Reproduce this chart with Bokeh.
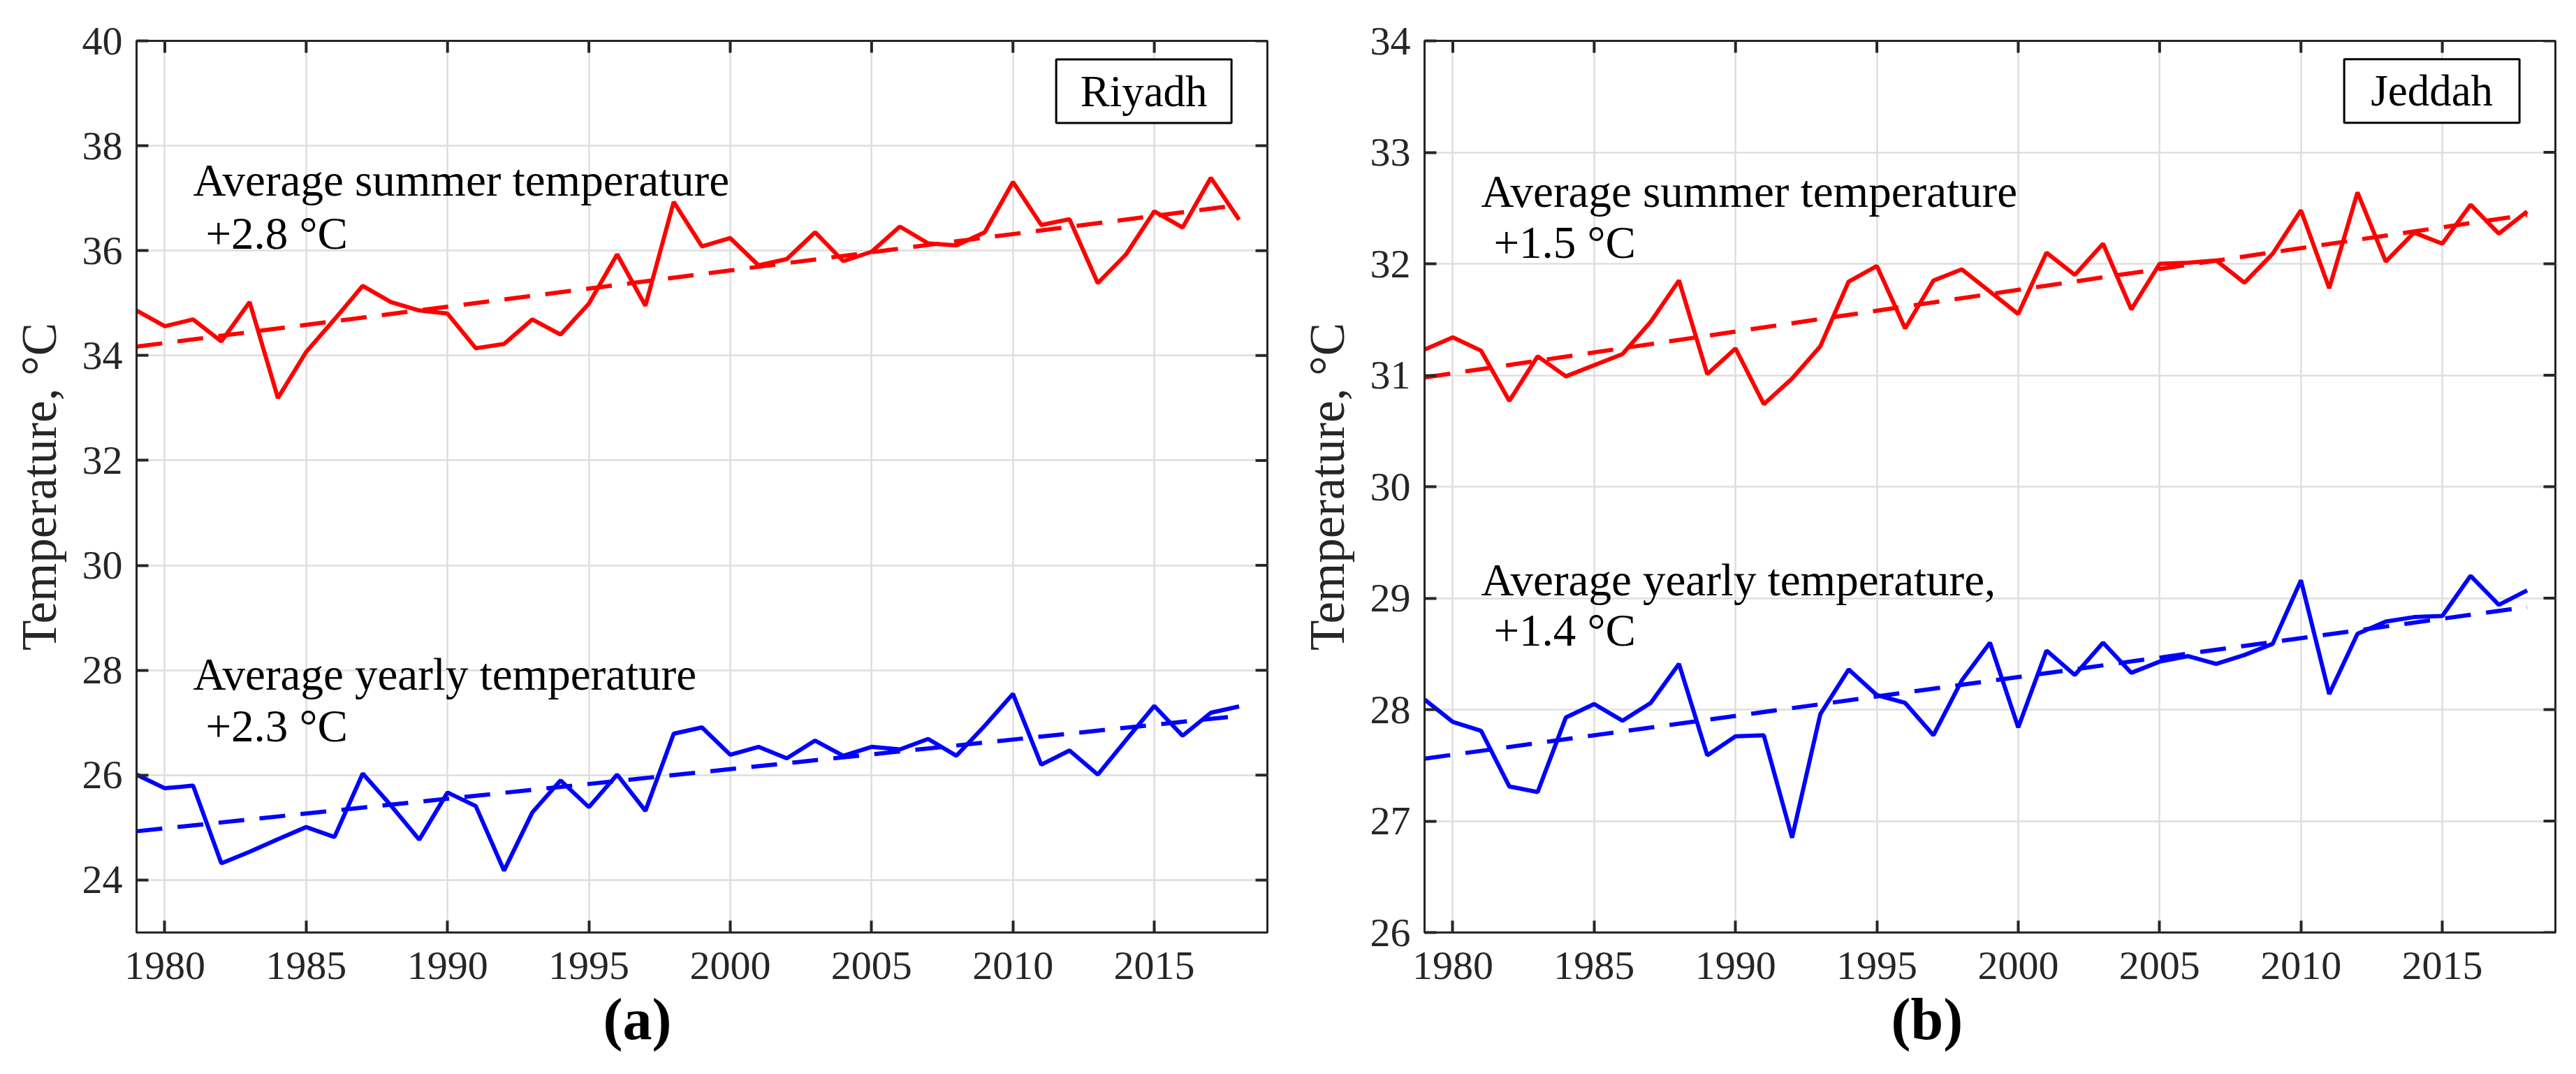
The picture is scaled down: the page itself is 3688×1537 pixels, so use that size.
from bokeh.plotting import figure
from bokeh.layouts import row
from bokeh.models import Label, FixedTicker, Range1d, Title
from bokeh.embed import file_html
from bokeh.resources import INLINE

years = list(range(1979, 2019))

riyadh_summer = [34.86, 34.56, 34.69, 34.27, 35.02, 33.19, 34.07, 34.69, 35.33, 35.02,
                 34.86, 34.80, 34.14, 34.22, 34.69, 34.40, 34.99, 35.93, 34.95, 36.93,
                 36.08, 36.24, 35.72, 35.84, 36.35, 35.80, 35.98, 36.46, 36.14, 36.10,
                 36.35, 37.31, 36.49, 36.60, 35.38, 35.93, 36.75, 36.44, 37.39, 36.59]
riyadh_yearly = [26.01, 25.75, 25.80, 24.32, 24.54, 24.78, 25.01, 24.82, 26.03, 25.42,
                 24.77, 25.67, 25.41, 24.18, 25.29, 25.90, 25.39, 26.01, 25.32, 26.79,
                 26.91, 26.39, 26.54, 26.32, 26.66, 26.37, 26.54, 26.49, 26.69, 26.37,
                 26.94, 27.55, 26.20, 26.47, 26.01, 26.67, 27.32, 26.75, 27.19, 27.31]
jeddah_summer = [31.23, 31.34, 31.22, 30.77, 31.17, 30.99, 31.09, 31.19, 31.48, 31.85,
                 31.01, 31.24, 30.74, 30.97, 31.26, 31.84, 31.98, 31.42, 31.85, 31.95,
                 31.75, 31.55, 32.10, 31.90, 32.18, 31.59, 32.00, 32.01, 32.03, 31.83,
                 32.09, 32.48, 31.78, 32.64, 32.02, 32.28, 32.18, 32.53, 32.27, 32.47]
jeddah_yearly = [28.09, 27.89, 27.81, 27.31, 27.26, 27.93, 28.05, 27.90, 28.06, 28.41,
                 27.59, 27.76, 27.77, 26.85, 27.96, 28.36, 28.13, 28.06, 27.77, 28.26,
                 28.60, 27.84, 28.53, 28.31, 28.60, 28.33, 28.43, 28.48, 28.41, 28.49,
                 28.59, 29.16, 28.14, 28.68, 28.79, 28.83, 28.84, 29.20, 28.94, 29.07]

trend_years = [1979, 2018]
riyadh_summer_trend = [34.17, 36.87]
riyadh_yearly_trend = [24.93, 27.13]
jeddah_summer_trend = [30.98, 32.44]
jeddah_yearly_trend = [27.56, 28.92]

x_ticks = [1980, 1985, 1990, 1995, 2000, 2005, 2010, 2015]
riyadh_y_ticks = [24, 26, 28, 30, 32, 34, 36, 38, 40]
jeddah_y_ticks = [26, 27, 28, 29, 30, 31, 32, 33, 34]

FONT = "Liberation Serif"
AX = "#262626"
X_RANGE = (1979, 2019)


def make_panel(city, summer, yearly, s_trend, y_trend, y_range, y_ticks,
               texts, text_y, box_y, letter, border_left, border_right):
    p = figure(width=1836, height=1521, output_backend="svg", toolbar_location=None,
               x_range=Range1d(*X_RANGE), y_range=Range1d(*y_range),
               min_border_left=border_left, min_border_right=border_right,
               min_border_top=58, min_border_bottom=187)
    p.background_fill_color = "white"
    p.border_fill_color = "white"
    p.outline_line_color = AX
    p.outline_line_width = 3

    xt = FixedTicker(ticks=x_ticks)
    yt = FixedTicker(ticks=y_ticks)
    bottom = p.below[0]
    left = p.left[0]
    bottom.ticker = xt
    left.ticker = yt
    p.xgrid.ticker = xt
    p.ygrid.ticker = yt
    for g in (p.xgrid, p.ygrid):
        g.grid_line_color = "#dedede"
        g.grid_line_width = 2.5

    for ax in (bottom, left):
        ax.axis_line_color = AX
        ax.axis_line_width = 3
        ax.major_tick_line_color = AX
        ax.major_tick_line_width = 4
        ax.major_tick_in = 17
        ax.major_tick_out = 0
        ax.minor_tick_line_color = None
        ax.major_label_text_font = FONT
        ax.major_label_text_font_size = "58px"
        ax.major_label_text_color = AX
    bottom.major_label_standoff = 28
    left.major_label_standoff = 20
    left.axis_label = "Temperature, °C"
    left.axis_label_text_font = FONT
    left.axis_label_text_font_size = "71px"
    left.axis_label_text_font_style = "normal"
    left.axis_label_text_color = AX
    left.axis_label_standoff = 20

    # box-style ticks on the top and right edges (inward)
    p.ray(x=x_ticks, y=[y_range[1]] * len(x_ticks), length=17, length_units="screen",
          angle=-90, angle_units="deg", line_color=AX, line_width=4)
    p.ray(x=[X_RANGE[1]] * len(y_ticks), y=y_ticks, length=17, length_units="screen",
          angle=180, angle_units="deg", line_color=AX, line_width=4)

    p.line(years, summer, line_color="#ff0000", line_width=6)
    p.line(trend_years, s_trend, line_color="#ff0000", line_width=6, line_dash="37 22")
    p.line(years, yearly, line_color="#0000ff", line_width=6)
    p.line(trend_years, y_trend, line_color="#0000ff", line_width=6, line_dash="37 22")

    for (t, dx), ty in zip(texts, text_y):
        p.add_layout(Label(x=1981, y=ty, x_offset=dx, text=t, text_font=FONT,
                           text_font_size="65px", text_color="black",
                           text_baseline="alphabetic", text_align="left"))

    p.rect(x=[2014.63], y=[box_y], width=251, height=91, width_units="screen",
           height_units="screen", fill_color="white", line_color="black", line_width=3)
    p.add_layout(Label(x=2014.63, y=box_y, text=city, text_font=FONT,
                       text_font_size="63px", text_color="black",
                       text_align="center", text_baseline="middle"))

    p.add_layout(Title(text="(" + letter + ")", text_font=FONT, text_font_style="bold",
                       text_font_size="84px", text_color="black", align="left",
                       offset=668, standoff=12), "below")
    return p


p1 = make_panel("Riyadh", riyadh_summer, riyadh_yearly, riyadh_summer_trend, riyadh_yearly_trend,
                (23, 40), riyadh_y_ticks,
                [("Average summer temperature", 0), ("+2.8 °C", 18),
                 ("Average yearly temperature", 0), ("+2.3 °C", 18)],
                [37.34, 36.33, 27.92, 26.94], 39.04, "a", 195, 22)
p2 = make_panel("Jeddah", jeddah_summer, jeddah_yearly, jeddah_summer_trend, jeddah_yearly_trend,
                (26, 34), jeddah_y_ticks,
                [("Average summer temperature", 0), ("+1.5 °C", 18),
                 ("Average yearly temperature,", 0), ("+1.4 °C", 18)],
                [32.65, 32.19, 29.16, 28.71], 33.55, "b", 203, 14)

layout = row(p1, p2)
open("out.html", "w").write(file_html(layout, INLINE))
